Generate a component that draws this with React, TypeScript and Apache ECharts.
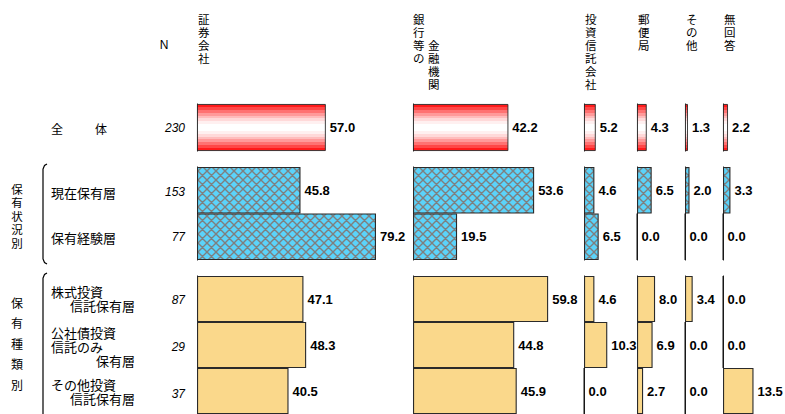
import React, { useEffect, useRef } from 'react';
import * as echarts from 'echarts';

// ---- data ----
const columns = ['証券会社', '銀行等の金融機関', '投資信託会社', '郵便局', 'その他', '無回答'];
const totalLabels = ['全体'];
const statusLabels = ['現在保有層', '保有経験層'];
const typeLabels = ['株式投資信託保有層', '公社債投資信託のみ保有層', 'その他投資信託保有層'];
const totalN = [230];
const statusN = [153, 77];
const typeN = [87, 29, 37];
// values per row, in column order
const totalValues = [57.0, 42.2, 5.2, 4.3, 1.3, 2.2];
const currentHolderValues = [45.8, 53.6, 4.6, 6.5, 2.0, 3.3];
const pastHolderValues = [79.2, 19.5, 6.5, 0.0, 0.0, 0.0];
const stockFundValues = [47.1, 59.8, 4.6, 8.0, 3.4, 0.0];
const bondFundValues = [48.3, 44.8, 10.3, 6.9, 0.0, 0.0];
const otherFundValues = [40.5, 45.9, 0.0, 2.7, 0.0, 13.5];

const groups = [
  { labels: totalLabels, rows: [totalValues] },
  { labels: statusLabels, rows: [currentHolderValues, pastHolderValues] },
  { labels: typeLabels, rows: [stockFundValues, bondFundValues, otherFundValues] },
];

// ---- layout ----
const colX = [197, 413, 584, 637, 685, 723];
const colMax = [100, 100, 25, 25, 25, 25]; // axis max per column (same px scale)
const pxPerPct = 2.26;
const groupTop = [104, 167, 276];
const groupH = [47, 93, 141];

const JP = '"Noto Sans CJK JP", "Noto Sans", sans-serif';
const LAT = '"Liberation Sans", Arial, sans-serif';

function makeHatch() {
  const s = 9;
  const c = document.createElement('canvas');
  c.width = s;
  c.height = s;
  const g = c.getContext('2d')!;
  g.fillStyle = '#5bd3fa';
  g.fillRect(0, 0, s, s);
  g.strokeStyle = '#7f7f7f';
  g.lineWidth = 1.4;
  g.beginPath();
  for (const o of [-s, 0, s]) {
    g.moveTo(o, 0);
    g.lineTo(o + s, s);
    g.moveTo(o + s, 0);
    g.lineTo(o, s);
  }
  g.stroke();
  return c;
}

function redGradient() {
  const bands = ['#ff1a1a', '#ff4747', '#ff7272', '#ff9a9a', '#ffbcbc', '#ffd9d9', '#fff0f0'];
  const stops: any[] = [];
  const h = 0.06;
  bands.forEach((c, i) => {
    stops.push({ offset: i * h, color: c }, { offset: (i + 1) * h, color: c });
  });
  stops.push({ offset: 0.42, color: '#ffffff' }, { offset: 0.58, color: '#ffffff' });
  for (let i = bands.length - 1; i >= 0; i--) {
    const c = bands[i];
    stops.push({ offset: 1 - (i + 1) * h, color: c }, { offset: 1 - i * h, color: c });
  }
  return { type: 'linear', x: 0, y: 0, x2: 0, y2: 1, colorStops: stops };
}

function txt(text: string, x: number, y: number, opts: any = {}) {
  return {
    type: 'text',
    x,
    y,
    silent: true,
    style: {
      text,
      fill: '#000',
      fontFamily: opts.fontFamily || JP,
      fontSize: opts.fontSize || 13,
      fontWeight: opts.fontWeight || 'normal',
      fontStyle: opts.fontStyle || 'normal',
      textAlign: opts.align || 'left',
      textVerticalAlign: opts.vAlign || 'middle',
      lineHeight: opts.lineHeight,
    },
  };
}

function vert(s: string) {
  return s.split('').join('\n');
}

export default function App() {
  const ref = useRef<HTMLDivElement>(null);
  useEffect(() => {
    if (!ref.current) return;
    const chart = echarts.init(ref.current, undefined, { renderer: 'svg' });
    const hatch = makeHatch();
    const fills: any[] = [
      redGradient(),
      { image: hatch, repeat: 'repeat', imageWidth: 9, imageHeight: 9 },
      '#fad88b',
    ];
    const borderW = [0.9, 1.1, 1.1];

    const grid: any[] = [];
    const xAxis: any[] = [];
    const yAxis: any[] = [];
    const series: any[] = [];
    groups.forEach((grp, gi) => {
      columns.forEach((col, ci) => {
        const idx = grid.length;
        grid.push({
          left: colX[ci],
          top: groupTop[gi],
          width: colMax[ci] * pxPerPct,
          height: groupH[gi],
          containLabel: false,
        });
        xAxis.push({ type: 'value', gridIndex: idx, min: 0, max: colMax[ci], show: false });
        yAxis.push({
          type: 'category',
          gridIndex: idx,
          data: grp.labels,
          inverse: true,
          axisLabel: { show: false },
          axisTick: { show: false },
          axisLine: { show: true, lineStyle: { color: '#000', width: 1 } },
          splitLine: { show: false },
          z: 0,
        });
        series.push({
          type: 'bar',
          name: col,
          xAxisIndex: idx,
          yAxisIndex: idx,
          barWidth: '100%',
          z: 5,
          data: grp.rows.map((r) => r[ci]),
          itemStyle: { color: fills[gi], borderColor: '#2a2a2a', borderWidth: borderW[gi] },
          label: {
            show: true,
            position: 'right',
            distance: 4,
            formatter: (p: any) => Number(p.value).toFixed(1),
            fontFamily: LAT,
            fontWeight: 'bold',
            fontSize: 13,
            color: '#000',
          },
        });
      });
    });

    const hdr = { vAlign: 'top', lineHeight: 13, fontSize: 11.5 };
    const graphics: any[] = [
      txt('N', 164, 45, { fontFamily: LAT, fontSize: 12, align: 'center' }),
      txt(vert('証券会社'), 198, 12, hdr),
      txt(vert('銀行等の'), 413, 12, hdr),
      txt(vert('金融機関'), 428, 38, hdr),
      txt(vert('投資信託会社'), 585, 12, hdr),
      txt(vert('郵便局'), 638, 12, hdr),
      txt(vert('その他'), 686, 12, hdr),
      txt(vert('無回答'), 724, 12, hdr),
      // row labels
      txt('全', 51, 128, { fontSize: 12 }),
      txt('体', 95, 128, { fontSize: 12 }),
      txt('現在保有層', 51, 192),
      txt('保有経験層', 51, 237),
      txt('株式投資', 51, 291),
      txt('信託保有層', 135, 305, { align: 'right' }),
      txt('公社債投資', 51, 332),
      txt('信託のみ', 51, 346),
      txt('保有層', 135, 360, { align: 'right' }),
      txt('その他投資', 51, 384),
      txt('信託保有層', 135, 398, { align: 'right' }),
      // group labels
      txt(vert('保有状況別'), 17, 182, { vAlign: 'top', lineHeight: 13.5, align: 'center', fontSize: 11.5 }),
      txt(vert('保有種類別'), 17, 292, { vAlign: 'top', lineHeight: 20.5, align: 'center', fontSize: 12 }),
      {
        type: 'polyline',
        silent: true,
        shape: { points: [[47, 164], [44.5, 165.5], [43, 169], [43, 259], [44.5, 262.5], [47, 264]] },
        style: { stroke: '#000', lineWidth: 1.2, fill: 'none' },
      },
      {
        type: 'polyline',
        silent: true,
        shape: { points: [[47, 273], [44.5, 274.5], [43, 278], [43, 420]] },
        style: { stroke: '#000', lineWidth: 1.2, fill: 'none' },
      },
    ];
    const nFor = [totalN, statusN, typeN];
    const nY = [[128], [192, 237], [300, 347, 394]];
    nFor.forEach((arr, gi) =>
      arr.forEach((n, ri) => {
        graphics.push(txt(String(n), 185, nY[gi][ri], { fontFamily: LAT, fontSize: 12, fontStyle: 'italic', align: 'right' }));
      })
    );

    chart.setOption({
      animation: false,
      backgroundColor: '#fff',
      grid,
      xAxis,
      yAxis,
      series,
      graphic: { elements: graphics },
    });
    return () => chart.dispose();
  }, []);
  return <div ref={ref} style={{ position: 'fixed', left: 0, top: 0, width: 785, height: 414 }} />;
}
